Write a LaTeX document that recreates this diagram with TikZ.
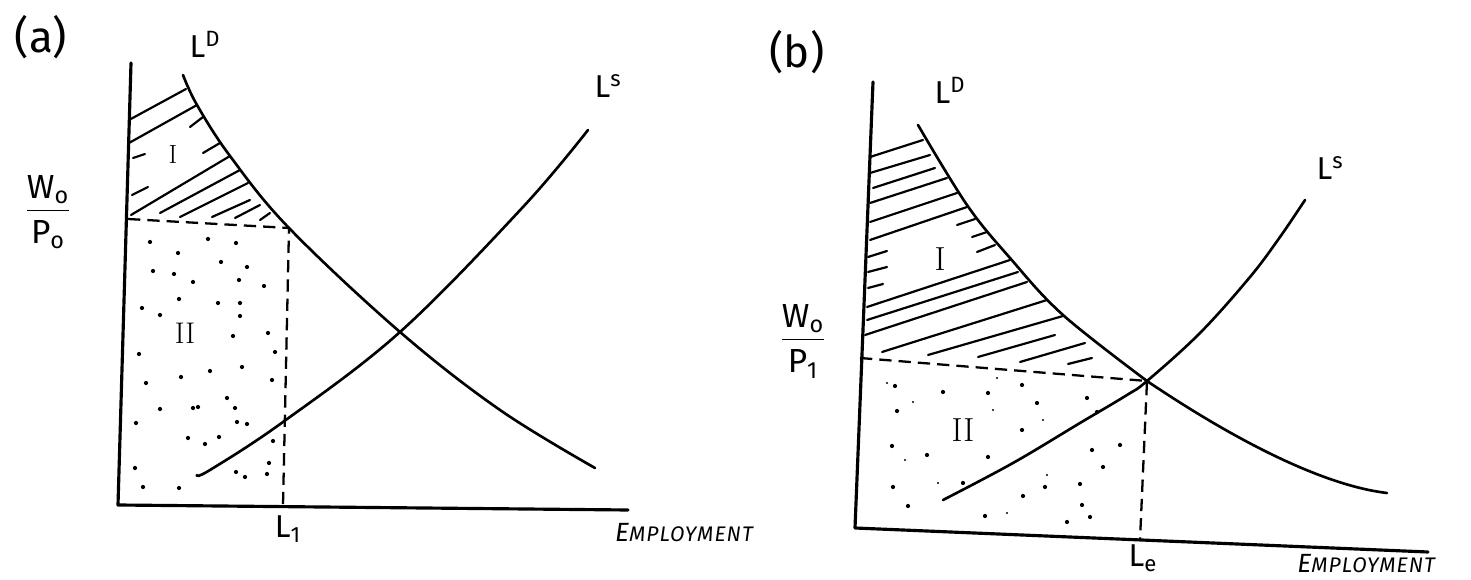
\documentclass[tikz,border=0pt]{standalone}
\usepackage{fontspec}
\newfontfamily\hand{Fira Sans}
\begin{document}
\begin{tikzpicture}[x=0.02cm,y=-0.02cm,
  axis/.style={line width=1.8pt, line cap=round, line join=round},
  curve/.style={line width=1.5pt, line cap=round},
  hatch/.style={line width=1.25pt, line cap=round},
  guide/.style={line width=1.3pt, dash pattern=on 7pt off 4pt},
  lbl/.style={inner sep=0pt, font=\hand\fontsize{18}{20}\selectfont},
  panel/.style={inner sep=0pt, font=\hand\fontsize{25}{28}\selectfont},
  region/.style={inner sep=0pt},
  frac/.style={inner sep=0pt, font=\hand\fontsize{19}{21}\selectfont},
  emp/.style={inner sep=0pt, font=\hand\itshape\fontsize{15}{17}\selectfont},
  dot/.style={fill=black}
]
\useasboundingbox (0,0) rectangle (1471,580);

% ---------------- panel (a) ----------------
\node[panel] (lab-a) at (41,37) {(a)};
\coordinate (a-top) at (131,63);
\coordinate (a-o) at (118,505);
\coordinate (a-xend) at (628,510);
\coordinate (a-w) at (128,219);
\coordinate (a-eq) at (289,228);
\coordinate (a-L1) at (283,505);
\draw[axis] (a-top) -- (a-o) -- (a-xend);

% hatching region I
\foreach \a/\b/\c/\d in {129/120/186/89, 129/143/197/105, 190/127/203/117, 133/158/145/154,
  203/153/220/143, 131/215/230/156, 132/195/148/187, 160/213/240/170, 180/217/248/183,
  212/217/250/200, 235/218/260/205, 260/220/270/213}
  \draw[hatch] (\a,\b) -- (\c,\d);

% dots region II
\foreach \x/\y in {150/242, 208/239, 236/243, 178/253, 221/262, 247/267, 153/271, 174/274,
  193/282, 239/280, 264/286, 179/299, 218/303, 240/303, 142/308, 160/315, 240/316, 233/336,
  268/333, 139/354, 275/352, 181/377, 210/371, 242/367, 146/383, 272/380, 160/409, 193/408,
  198/407, 227/398, 235/408, 237/422, 247/424, 136/423, 188/438, 205/444, 219/437, 273/441,
  135/468, 236/472, 245/477, 267/474, 269/463, 143/487, 179/488}
  \fill[dot] (\x,\y) circle[radius=1.2pt];

\draw[guide] (a-w) -- (a-eq) -- (a-L1);

\draw[curve] plot[smooth, tension=0.6] coordinates {(183,75) (197,105) (230,156) (a-eq) (400,332) (500,410) (595,468)};
\draw[curve] plot[smooth, tension=0.6] coordinates {(197,475) (210,470) (283,422) (400,332) (523,207) (588,130)};

\node[lbl] (LDa) at (205,44) {L\textsuperscript{D}};
\node[lbl] (LSa) at (608,86) {L\textsuperscript{s}};
\node[frac] (WPa) at (48,214) {\begin{tabular}{@{}c@{}}W\textsubscript{o}\\\hline\rule{0pt}{19pt}P\textsubscript{o}\end{tabular}};
\node[region, font=\fontsize{15}{17}\selectfont] (Ia) at (173,155) {I};
\node[region, font=\fontsize{17}{19}\selectfont] (IIa) at (185,333) {II};
\node[lbl] (L1) at (288,529) {L\textsubscript{1}};
\node[emp] (EMPa) at (684,533) {E\addfontfeatures{LetterSpace=5}{\fontsize{12}{14}\selectfont MPLOYMENT}};

% ---------------- panel (b) ----------------
\node[panel] (lab-b) at (797,52) {(b)};
\coordinate (b-top) at (873,82);
\coordinate (b-o) at (855,528);
\coordinate (b-xend) at (1428,552);
\coordinate (b-w) at (860,358);
\coordinate (b-eq) at (1147,381);
\coordinate (b-Le) at (1140,540);
\coordinate (b-Dend) at (1387,493);
\draw[axis] (b-top) -- (b-o) -- (b-xend);

\foreach \a/\b/\c/\d in {870/157/923/140, 870/173/930/155, 873/188/935/168, 870/203/947/178,
  870/222/957/193, 870/240/967/207, 957/225/975/219, 972/237/987/232, 977/252/995/245,
  868/257/887/251, 868/272/887/267, 868/288/883/284, 867/307/1010/260, 867/320/1018/272,
  865/335/1027/282, 882/352/1047/300, 928/355/1063/316, 978/357/1055/335, 1020/362/1085/343,
  1068/364/1092/358}
  \draw[hatch] (\a,\b) -- (\c,\d);

\foreach \x/\y in {895/386, 943/392, 988/393, 1022/385, 1087/398, 1037/403, 897/411, 1097/412,
  1022/430, 892/446, 927/455, 988/457, 1092/450, 1120/445, 1103/467, 893/487, 963/483,
  1045/487, 1080/484, 1023/496, 908/506, 985/516, 1082/505, 1090/517, 1067/522}
  \fill[dot] (\x,\y) circle[radius=1.2pt];
\foreach \x/\y in {993/410, 887/383, 913/402, 1043/420, 905/460, 938/483, 1007/513, 1047/475, 997/378}
  \fill[dot] (\x,\y) circle[radius=0.6pt];

\draw[guide] (b-w) -- (b-eq) -- (b-Le);

\draw[curve] plot[smooth, tension=0.6] coordinates {(918,125) (967,205) (1010,258) (1063,315) (b-eq)};
\draw[curve] (b-eq) .. controls (1230,437) and (1320,485) .. (b-Dend);
\draw[curve] plot[smooth, tension=0.6] coordinates {(943,500) (1013,463) (1080,423) (1127,395) (b-eq) (1200,333) (1250,277) (1280,237) (1305,200)};

\node[lbl] (LDb) at (950,90) {L\textsuperscript{D}};
\node[lbl] (LSb) at (1330,168) {L\textsuperscript{s}};
\node[frac] (WPb) at (803,343) {\begin{tabular}{@{}c@{}}W\textsubscript{o}\\\hline\rule{0pt}{19pt}P\textsubscript{1}\end{tabular}};
\node[region, font=\fontsize{19}{21}\selectfont] (Ib) at (940,259) {I};
\node[region, font=\fontsize{19}{21}\selectfont] (IIb) at (963,430) {II};
\node[lbl] (Le) at (1143,558) {L\textsubscript{e}};
\node[emp, anchor=west] (EMPb) at (1297,564) {E\addfontfeatures{LetterSpace=5}{\fontsize{12}{14}\selectfont MPLOYMENT}};
\end{tikzpicture}
\end{document}
